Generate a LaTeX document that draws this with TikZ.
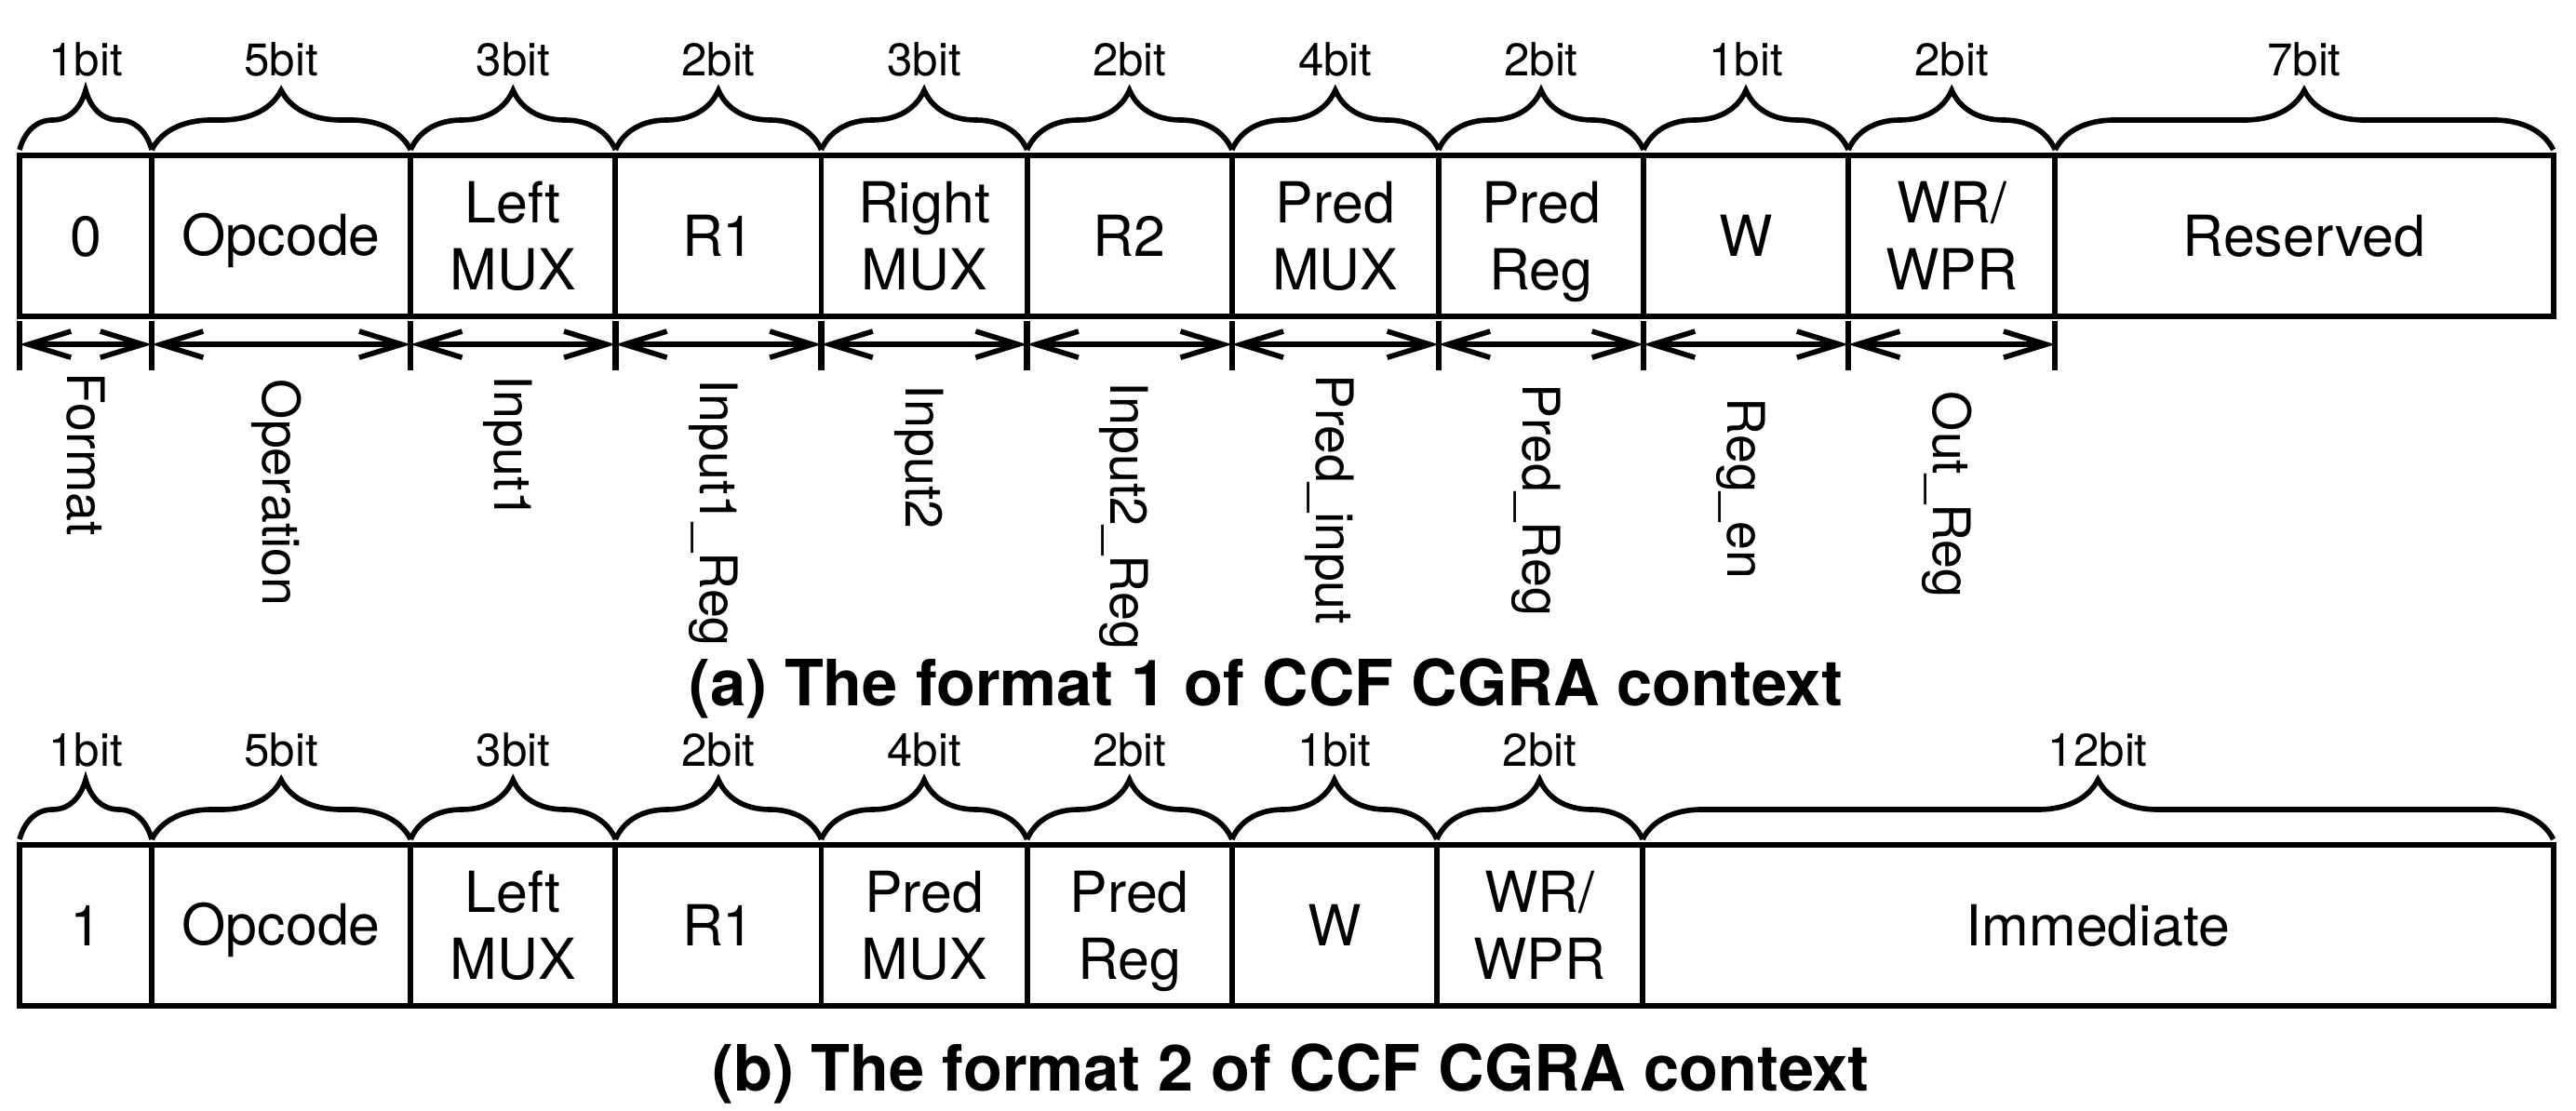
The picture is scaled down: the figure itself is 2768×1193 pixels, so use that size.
\documentclass[tikz,border=0pt]{standalone}
\usepackage{fontspec}
\setmainfont{TeX Gyre Heros}
\usetikzlibrary{positioning,decorations.pathreplacing,arrows.meta}
% same height and depth for one-line fields
\newcommand\fstrut{\rule[-0.2em]{0pt}{1.12em}}
\begin{document}
\begin{tikzpicture}[x=0.01cm,y=-0.01cm]
    \tikzstyle{field}=[draw,line width=1.7pt,minimum height=1.73cm,inner sep=0pt,outer sep=0pt,
        align=center,font=\fontsize{17.3}{20.5}\selectfont]
    \tikzstyle{oneline}=[field,execute at begin node=\fstrut]
    \tikzstyle{bitbrace}=[decorate,decoration={brace,amplitude=0.64cm},line width=1.6pt]
    \tikzstyle{bitlabel}=[midway,inner sep=0pt,font=\fontsize{14}{16}\selectfont]
    \tikzstyle{dimarrow}=[{Straight Barb[length=13pt,width=8pt]}-{Straight Barb[length=13pt,width=8pt]},line width=1.6pt]
    \tikzstyle{tickmark}=[line width=1.8pt]
    \tikzstyle{vlabel}=[rotate=-90,anchor=west,inner sep=0pt,text height=11.3pt,text depth=0pt,
        font=\fontsize{15.8}{18}\selectfont]
    \tikzstyle{caption}=[anchor=base,inner sep=0pt,font=\fontsize{19.5}{22}\selectfont\bfseries]
    \useasboundingbox (0,0) rectangle (2768,1193);
    % format 1
    \node[oneline,minimum width=1.42cm,anchor=north west] (a1) at (21,167) {0};
    \node[oneline,minimum width=2.78cm,right=0pt of a1] (a2) {Opcode};
    \node[field,minimum width=2.20cm,right=0pt of a2] (a3) {Left\\MUX};
    \node[oneline,minimum width=2.21cm,right=0pt of a3] (a4) {R1};
    \node[field,minimum width=2.21cm,right=0pt of a4] (a5) {Right\\MUX};
    \node[oneline,minimum width=2.20cm,right=0pt of a5] (a6) {R2};
    \node[field,minimum width=2.22cm,right=0pt of a6] (a7) {Pred\\MUX};
    \node[field,minimum width=2.20cm,right=0pt of a7] (a8) {Pred\\\smash{Reg}};
    \node[oneline,minimum width=2.20cm,right=0pt of a8] (a9) {W};
    \node[field,minimum width=2.22cm,right=0pt of a9] (a10) {WR/\\WPR};
    \node[oneline,minimum width=5.35cm,right=0pt of a10] (a11) {Reserved};
    \foreach \n/\b in {a1/1bit,a2/5bit,a3/3bit,a4/2bit,a5/3bit,a6/2bit,a7/4bit,a8/2bit,a9/1bit,a10/2bit,a11/7bit}
        \draw[bitbrace] ([yshift=0.06cm]\n.north west) -- node[bitlabel,above=0.76cm]{\b} ([yshift=0.06cm]\n.north east);
    \foreach \n in {a1,a2,a3,a4,a5,a6,a7,a8,a9,a10}{
        \draw[tickmark] ([yshift=-0.05cm]\n.south west) -- ([yshift=-0.58cm]\n.south west);
        \draw[dimarrow] ([yshift=-0.30cm]\n.south west) -- ([yshift=-0.30cm]\n.south east);
    }
    \draw[tickmark] ([yshift=-0.05cm]a10.south east) -- ([yshift=-0.58cm]a10.south east);
    \foreach \n/\d/\t in {a1/0.60/Format,a2/0.67/Operation,a3/0.63/Input1,a4/0.67/Input1\_Reg,a5/0.73/Input2,
        a6/0.70/Input2\_Reg,a7/0.62/Pred\_input,a8/0.72/Pred\_Reg,a9/0.87/Reg\_en,a10/0.80/Out\_Reg}
        \node[vlabel] (l\n) at ([yshift=-\d cm]\n.south) {\t};
    \node[caption] (capa) at (1360,758) {(a) The format 1 of CCF CGRA context};
    % format 2
    \node[oneline,minimum width=1.42cm,anchor=north west] (b1) at (21,908) {1};
    \node[oneline,minimum width=2.78cm,right=0pt of b1] (b2) {Opcode};
    \node[field,minimum width=2.20cm,right=0pt of b2] (b3) {Left\\MUX};
    \node[oneline,minimum width=2.21cm,right=0pt of b3] (b4) {R1};
    \node[field,minimum width=2.21cm,right=0pt of b4] (b5) {Pred\\MUX};
    \node[field,minimum width=2.20cm,right=0pt of b5] (b6) {Pred\\\smash{Reg}};
    \node[oneline,minimum width=2.20cm,right=0pt of b6] (b7) {W};
    \node[field,minimum width=2.21cm,right=0pt of b7] (b8) {WR/\\WPR};
    \node[oneline,minimum width=9.78cm,right=0pt of b8] (b9) {Immediate};
    \foreach \n/\b in {b1/1bit,b2/5bit,b3/3bit,b4/2bit,b5/4bit,b6/2bit,b7/1bit,b8/2bit,b9/12bit}
        \draw[bitbrace] ([yshift=0.06cm]\n.north west) -- node[bitlabel,above=0.75cm]{\b} ([yshift=0.06cm]\n.north east);
    \node[caption] (capb) at (1387,1172) {(b) The format 2 of CCF CGRA context};
\end{tikzpicture}
\end{document}
